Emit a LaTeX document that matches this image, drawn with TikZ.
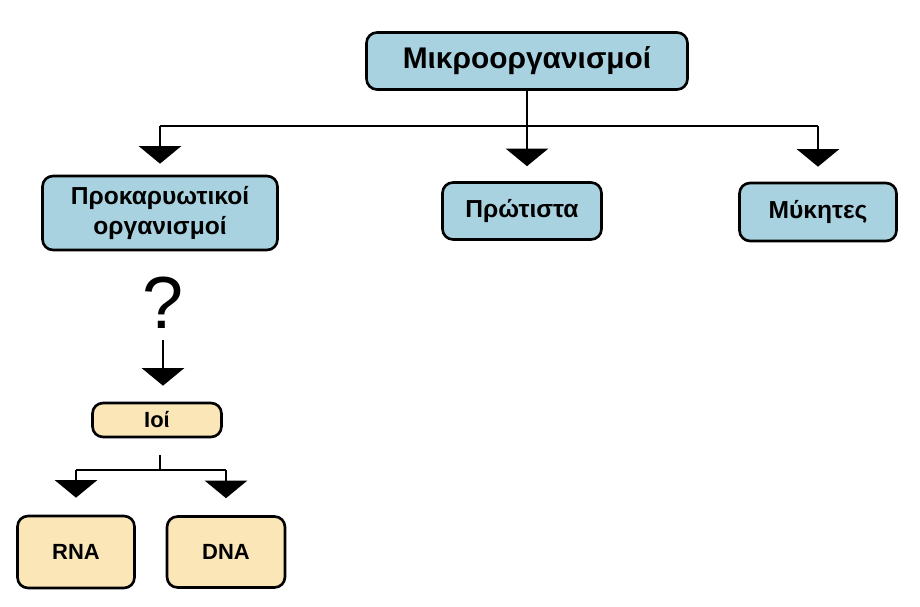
\documentclass[tikz,border=0pt]{standalone}
\usepackage{fontspec}
\setmainfont{Liberation Sans}
\usetikzlibrary{arrows.meta, positioning}

\definecolor{boxblue}{RGB}{168,210,224}
\definecolor{boxbeige}{RGB}{251,230,184}

\begin{document}
\begin{tikzpicture}[x=0.02cm, y=-0.02cm,
    box/.style={draw=black, line width=1.5pt, rounded corners=6pt, inner sep=0pt, align=center},
    bluebox/.style={box, fill=boxblue, font=\bfseries\fontsize{14}{17}\selectfont},
    beigebox/.style={box, fill=boxbeige, font=\bfseries\fontsize{12.5}{15}\selectfont},
    link/.style={line width=1.3pt},
    arr/.style={link, -{Triangle[width=24pt, length=10pt]}}]
  \useasboundingbox (0,0) rectangle (920,607);

  % upper level
  \node[bluebox, minimum width=6.42cm, minimum height=1.14cm, font=\bfseries\fontsize{17}{20}\selectfont] (micro) at (527,61) {Μικροοργανισμοί};
  \node[bluebox, minimum width=4.7cm, minimum height=1.48cm] (prokar) at (160,213) {Προκαρυωτικοί\\οργανισμοί};
  \node[bluebox, minimum width=3.18cm, minimum height=1.14cm] (protista) at (522,211) {Πρώτιστα};
  \node[bluebox, minimum width=3.14cm, minimum height=1.16cm] (fungi) at (818,212) {Μύκητες};

  \coordinate (split) at (524,126);
  \draw[link] (split -| prokar) -- (split -| fungi);
  \draw[arr, shorten >=0.3cm] (micro.south) -- (micro.south |- protista.north);
  \draw[arr, shorten >=0.22cm] (split -| prokar) -- (prokar.north);
  \draw[arr, shorten >=0.3cm] (split -| fungi) -- (fungi.north);

  % viruses
  \node[font=\fontsize{42}{42}\selectfont, inner sep=0pt] (quest) at (163,303) {?};
  \node[beigebox, minimum width=2.58cm, minimum height=0.68cm] (ioi) at (157,420) {Ιοί};
  \draw[arr, shorten >=0.32cm] (quest.south |- 0,340) -- (quest.south |- ioi.north);

  \node[beigebox, minimum width=2.34cm, minimum height=1.44cm] (rna) at (76,552) {RNA};
  \node[beigebox, minimum width=2.36cm, minimum height=1.42cm] (dna) at (226,552) {DNA};

  \coordinate (fork) at (160,470);
  \draw[link, shorten <=0.34cm] (fork |- ioi.south) -- (fork);
  \draw[link] (fork -| rna) -- (fork -| dna);
  \draw[arr, shorten >=0.34cm] (fork -| rna) -- (rna.north);
  \draw[arr, shorten >=0.34cm] (fork -| dna) -- (dna.north);
\end{tikzpicture}
\end{document}
